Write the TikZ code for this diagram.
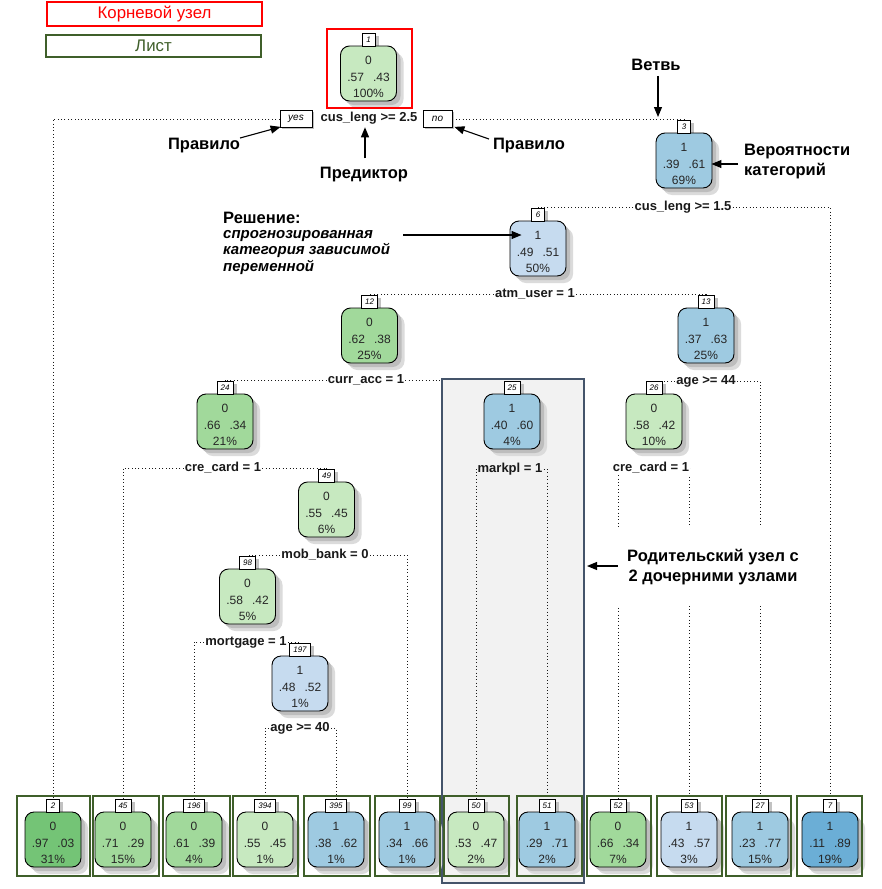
\documentclass[tikz,border=0pt]{standalone}
\usepackage{fontspec}
\setmainfont{Liberation Sans}
\usetikzlibrary{arrows.meta,calc}
\definecolor{gD}{HTML}{74C476}
\definecolor{gM}{HTML}{A1D99B}
\definecolor{gL}{HTML}{C7E9C0}
\definecolor{bL}{HTML}{C6DBEF}
\definecolor{bM}{HTML}{9ECAE1}
\definecolor{bD}{HTML}{6BAED6}
\definecolor{leafgreen}{HTML}{3F5F2A}
\definecolor{slate}{HTML}{44546A}
\definecolor{gbg}{HTML}{F2F2F2}
\pgfdeclarelayer{back}
\pgfdeclarelayer{gboxl}
\pgfdeclarelayer{shad}
\pgfsetlayers{back,gboxl,shad,main}
\tikzset{
  dotline/.style={draw=black!90, line width=1pt, dash pattern=on 1pt off 2.4pt},
  nbox/.style={draw, line width=0.9pt, rounded corners=9pt, minimum width=56pt, minimum height=55pt,
    inner sep=0pt},
  ntext/.style={inner sep=0pt, align=center, font=\fontsize{12}{16.5}\selectfont, text=black!85},
  tabbox/.style={draw, fill=white, line width=0.8pt, minimum width=13pt, minimum height=13pt,
    inner xsep=3.5pt, inner ysep=1pt, font=\fontsize{8}{9}\selectfont\itshape},
  rulelbl/.style={fill=white, inner sep=1pt, font=\fontsize{13}{15}\selectfont\bfseries, text=black!90},
  ynbox/.style={draw, fill=white, line width=0.8pt, minimum height=17pt, inner sep=0pt,
    font=\fontsize{10}{11}\selectfont\itshape},
  annot/.style={font=\fontsize{16.5}{20}\selectfont\bfseries, inner sep=2pt},
  arr/.style={-{Triangle[length=10pt,width=8pt]}, line width=1.1pt},
  leafframe/.style={draw=leafgreen, line width=2pt},
  shA/.style={fill=black!14},
  shB/.style={fill=black!26}
}
\newcommand{\tnode}[6]{%
  \fill[shA,rounded corners=9pt] (#2-21,#3+20) rectangle (#2+35,#3+75);
  \fill[shB,rounded corners=9pt] (#2-24,#3+17) rectangle (#2+32,#3+72);
  \node[nbox,fill=#5] (#1) at (#2,#3+40.5) {};
  \node[ntext] (#1x) at (#2,#3+44) {#6};
  \node[tabbox] (#1t) at (#2,#3+6.5) {#4};
  \begin{pgfonlayer}{shad}
  \fill[black!24] ($(#1t.north west)+(3.5,3)$) rectangle ($(#1t.south east)+(3.5,3)$);
  \end{pgfonlayer}
}
\newcommand{\leafnode}[7]{%
  \tnode{#1}{#2}{799}{#3}{#4}{#5}
  \draw[leafframe] (#6,796) rectangle (#7,876);
}
\begin{document}
\begin{tikzpicture}[x=1pt,y=-1pt]
\begin{pgfonlayer}{back}
\fill[white] (0,0) rectangle (882,889);
\end{pgfonlayer}
\useasboundingbox (0,0) rectangle (882,889);

% legend
\node[draw=red, line width=2.2pt, minimum width=215pt, minimum height=24pt, text=red,
  font=\fontsize{16.8}{18}\selectfont] (legroot) at (154.5,14) {Корневой узел};
\node[draw=leafgreen, line width=2.2pt, minimum width=215pt, minimum height=22pt, text=leafgreen,
  font=\fontsize{16.8}{18}\selectfont] (legleaf) at (153.5,46) {Лист};

% gray parent box
\begin{pgfonlayer}{gboxl}
\node[draw=slate, fill=gbg, line width=2pt, minimum width=142pt, minimum height=504pt, inner sep=0pt] (gbox) at (513,631) {};
\end{pgfonlayer}

% internal nodes
\tnode{n1}{368.5}{33}{1}{gL}{0\\.57\hspace{9pt}.43\\100\%}
\tnode{n3}{684}{120}{3}{bM}{1\\.39\hspace{9pt}.61\\69\%}
\tnode{n6}{538}{208}{6}{bL}{1\\.49\hspace{9pt}.51\\50\%}
\tnode{n12}{369.5}{295}{12}{gM}{0\\.62\hspace{9pt}.38\\25\%}
\tnode{n13}{706}{295}{13}{bM}{1\\.37\hspace{9pt}.63\\25\%}
\tnode{n24}{225}{381}{24}{gM}{0\\.66\hspace{9pt}.34\\21\%}
\tnode{n25}{512}{381}{25}{bM}{1\\.40\hspace{9pt}.60\\4\%}
\tnode{n26}{654}{381}{26}{gL}{0\\.58\hspace{9pt}.42\\10\%}
\tnode{n49}{326.5}{469}{49}{gL}{0\\.55\hspace{9pt}.45\\6\%}
\tnode{n98}{247.5}{556}{98}{gL}{0\\.58\hspace{9pt}.42\\5\%}
\tnode{n197}{300}{643}{197}{bL}{1\\.48\hspace{9pt}.52\\1\%}

% leaves
\leafnode{l2}{53}{2}{gD}{0\\.97\hspace{9pt}.03\\31\%}{17}{90}
\leafnode{l45}{123}{45}{gM}{0\\.71\hspace{9pt}.29\\15\%}{93}{159}
\leafnode{l196}{194}{196}{gM}{0\\.61\hspace{9pt}.39\\4\%}{163}{230}
\leafnode{l394}{265}{394}{gL}{0\\.55\hspace{9pt}.45\\1\%}{233}{298}
\leafnode{l395}{336}{395}{bM}{1\\.38\hspace{9pt}.62\\1\%}{304}{370}
\leafnode{l99}{407}{99}{bM}{1\\.34\hspace{9pt}.66\\1\%}{375}{440}
\leafnode{l50}{476}{50}{gL}{0\\.53\hspace{9pt}.47\\2\%}{444}{509}
\leafnode{l51}{547}{51}{bM}{1\\.29\hspace{9pt}.71\\2\%}{517}{582}
\leafnode{l52}{618}{52}{gM}{0\\.66\hspace{9pt}.34\\7\%}{587}{651}
\leafnode{l53}{689}{53}{bL}{1\\.43\hspace{9pt}.57\\3\%}{657}{722}
\leafnode{l27}{760}{27}{bM}{1\\.23\hspace{9pt}.77\\15\%}{726}{791}
\leafnode{l7}{830}{7}{bD}{1\\.11\hspace{9pt}.89\\19\%}{797}{862}

% root frame
\draw[red, line width=2pt] (327,29) rectangle (412,108);

% rule labels
\fill[black!25] (282,112) rectangle (314,129);
\node[ynbox, minimum width=32pt] (yes1) at (296,119) {yes};
\fill[black!25] (425,112) rectangle (454,129);
\node[ynbox, minimum width=29pt] (no1) at (437.5,119) {no};
\node[rulelbl] (s1) at (369,118) {cus\_leng >= 2.5};
\node[rulelbl] (s3) at (683,207) {cus\_leng >= 1.5};
\node[rulelbl] (s6) at (535,294) {atm\_user = 1};
\node[rulelbl] (s12) at (366,380) {curr\_acc = 1};
\node[rulelbl] (s24) at (223,468) {cre\_card = 1};
\node[rulelbl] (s49) at (325,555) {mob\_bank = 0};
\node[rulelbl] (s98) at (246,642) {mortgage = 1};
\node[rulelbl] (s197) at (300,728) {age >= 40};
\node[rulelbl, fill=gbg] (s25) at (510,469) {markpl = 1};
\node[rulelbl] (s13) at (706,381) {age >= 44};
\node[rulelbl] (s26) at (651,468) {cre\_card = 1};

% connectors
\begin{pgfonlayer}{back}
\draw[dotline] (s12.east) -| (n25t.north);
\draw[dotline] (yes1.west) -| (l2t.north);
\draw[dotline] (no1.east) -| (n3t.north);
\draw[dotline] (s3.west) -| (n6t.north);
\draw[dotline] (s3.east) -| (l7t.north);
\draw[dotline] (s6.west) -| (n12t.north);
\draw[dotline] (s6.east) -| (n13t.north);
\draw[dotline] (s12.west) -| (n24t.north);
\draw[dotline] (s24.west) -| (l45t.north);
\draw[dotline] (s24.east) -| (n49t.north);
\draw[dotline] (s49.west) -| (n98t.north);
\draw[dotline] (s49.east) -| (l99t.north);
\draw[dotline] (s98.west) -| (l196t.north);
\draw[dotline] (s98.east) -| (n197t.north);
\draw[dotline] (s197.west) -| (l394t.north);
\draw[dotline] (s197.east) -| (l395t.north);
\draw[dotline] (s13.west) -| (n26t.north);
\draw[dotline] (s13.east) -| (l27t.north);
\draw[dotline] (s26.west) -| (l52t.north);
\draw[dotline] (s26.east) -| (l53t.north);
\end{pgfonlayer}
\begin{pgfonlayer}{shad}
\draw[dotline] (s25.west) -| (l50t.north);
\draw[dotline] (s25.east) -| (l51t.north);
\end{pgfonlayer}

% annotations
\node[annot] (pr1) at (204,146) {Правило};
\node[annot] (pred) at (364,175) {Предиктор};
\node[annot] (pr2) at (529,146) {Правило};
\node[annot] (vetv) at (656,65) {Ветвь};
\node[annot, anchor=west, align=left] (ver) at (742,162) {Вероятности\\категорий};
\node[annot, anchor=west] (res1) at (221,218) {Решение:};
\node[anchor=north west, align=left, inner sep=2pt,
  font=\fontsize{15}{16.5}\selectfont\bfseries\itshape] (res2) at (221,228)
  {спрогнозированная\\категория зависимой\\переменной};
\node[annot, fill=white, align=center, minimum width=226pt, minimum height=78pt] (ann) at (713,567)
  {Родительский узел с\\2 дочерними узлами};
\coordinate (br) at (658,117);
\coordinate (resA) at (403,235);

\draw[arr] ($(pr1.east)+(-2,-8)$) -- ($(yes1.south west)+(1,-1)$);
\draw[arr] ($(pred.north)+(1,-7)$) -- ($(pred.north|-s1.south)+(1,2)$);
\draw[arr] ($(pr2.west)+(-2,-7)$) -- ($(no1.south east)+(2,-1)$);
\draw[arr] ($(vetv.south)+(2,3)$) -- (br);
\draw[arr] ($(ver.west)+(-4,2)$) -- ($(n3.east)+(-1,3.5)$);
\draw[arr] (resA) -- ($(n6.west)+(12,-13.5)$);
\draw[arr] ($(ann.west)+(18,-1)$) -- ($(ann.west -| gbox.east)+(2,-1)$);
\end{tikzpicture}
\end{document}
